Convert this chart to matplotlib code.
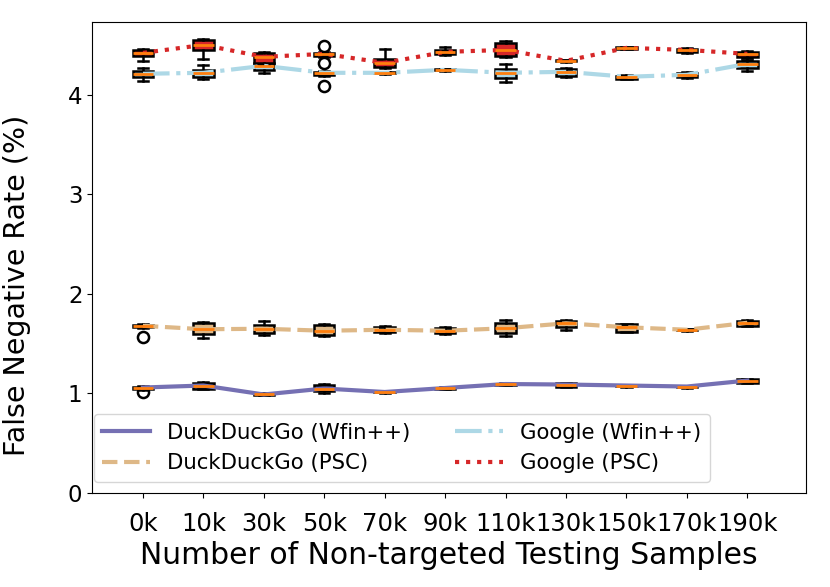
import numpy as np
import matplotlib
matplotlib.use("Agg")
import matplotlib.pyplot as plt

tick_labels = ["0k", "10k", "30k", "50k", "70k", "90k", "110k", "130k", "150k", "170k", "190k"]
positions = list(range(1, len(tick_labels) + 1))

# per-box stats: median, q1, q3, whisker low, whisker high
ddg_wfin_med = [1.06, 1.08, 0.99, 1.05, 1.015, 1.055, 1.095, 1.09, 1.08, 1.07, 1.13]
ddg_wfin_q1 = [1.045, 1.05, 0.985, 1.02, 1.01, 1.05, 1.09, 1.07, 1.075, 1.065, 1.11]
ddg_wfin_q3 = [1.07, 1.11, 0.995, 1.085, 1.02, 1.06, 1.10, 1.105, 1.085, 1.075, 1.145]
ddg_wfin_lo = [1.04, 1.045, 0.98, 1.0, 1.005, 1.045, 1.085, 1.065, 1.07, 1.06, 1.105]
ddg_wfin_hi = [1.075, 1.115, 1.0, 1.10, 1.025, 1.065, 1.105, 1.11, 1.09, 1.08, 1.15]
ddg_wfin_fliers = {0: [1.01]}

ddg_psc_med = [1.68, 1.645, 1.65, 1.63, 1.64, 1.63, 1.655, 1.705, 1.665, 1.64, 1.71]
ddg_psc_q1 = [1.665, 1.60, 1.605, 1.59, 1.615, 1.605, 1.605, 1.67, 1.62, 1.635, 1.68]
ddg_psc_q3 = [1.69, 1.705, 1.69, 1.69, 1.67, 1.66, 1.71, 1.73, 1.695, 1.645, 1.73]
ddg_psc_lo = [1.66, 1.555, 1.59, 1.58, 1.61, 1.60, 1.58, 1.64, 1.615, 1.63, 1.675]
ddg_psc_hi = [1.695, 1.72, 1.73, 1.70, 1.675, 1.665, 1.74, 1.735, 1.70, 1.65, 1.74]
ddg_psc_fliers = {0: [1.565]}

g_wfin_med = [4.21, 4.22, 4.29, 4.22, 4.22, 4.25, 4.22, 4.23, 4.18, 4.20, 4.31]
g_wfin_q1 = [4.18, 4.18, 4.25, 4.20, 4.215, 4.245, 4.17, 4.19, 4.16, 4.18, 4.27]
g_wfin_q3 = [4.24, 4.25, 4.32, 4.23, 4.225, 4.255, 4.26, 4.26, 4.19, 4.22, 4.34]
g_wfin_lo = [4.14, 4.16, 4.22, 4.19, 4.21, 4.24, 4.13, 4.18, 4.155, 4.17, 4.24]
g_wfin_hi = [4.27, 4.30, 4.33, 4.24, 4.23, 4.26, 4.31, 4.27, 4.20, 4.23, 4.35]
g_wfin_fliers = {3: [4.49, 4.32, 4.09]}

g_psc_med = [4.42, 4.50, 4.38, 4.41, 4.32, 4.43, 4.45, 4.34, 4.47, 4.45, 4.41]
g_psc_q1 = [4.39, 4.45, 4.32, 4.39, 4.28, 4.41, 4.39, 4.335, 4.46, 4.43, 4.38]
g_psc_q3 = [4.45, 4.55, 4.42, 4.42, 4.36, 4.45, 4.52, 4.345, 4.475, 4.46, 4.43]
g_psc_lo = [4.34, 4.36, 4.30, 4.38, 4.27, 4.40, 4.38, 4.33, 4.455, 4.42, 4.37]
g_psc_hi = [4.46, 4.56, 4.43, 4.43, 4.46, 4.48, 4.54, 4.35, 4.48, 4.47, 4.44]
g_psc_fliers = {}

series = [
    ("DuckDuckGo (Wfin++)", "#7570b3", "-",
     ddg_wfin_med, ddg_wfin_q1, ddg_wfin_q3, ddg_wfin_lo, ddg_wfin_hi, ddg_wfin_fliers),
    ("DuckDuckGo (PSC)", "#deb887", "--",
     ddg_psc_med, ddg_psc_q1, ddg_psc_q3, ddg_psc_lo, ddg_psc_hi, ddg_psc_fliers),
    ("Google (Wfin++)", "#add8e6", "-.",
     g_wfin_med, g_wfin_q1, g_wfin_q3, g_wfin_lo, g_wfin_hi, g_wfin_fliers),
    ("Google (PSC)", "#d62728", ":",
     g_psc_med, g_psc_q1, g_psc_q3, g_psc_lo, g_psc_hi, g_psc_fliers),
]


def make_stats(med, q1, q3, lo, hi, fliers):
    stats = []
    for i in range(len(med)):
        stats.append({
            "med": med[i], "q1": q1[i], "q3": q3[i],
            "whislo": lo[i], "whishi": hi[i],
            "fliers": fliers.get(i, []),
        })
    return stats


fig = plt.figure(figsize=(8.3, 5.87), dpi=100)
ax = fig.add_axes([0.111, 0.160, 0.86, 0.8025])

for label, color, ls, med, q1, q3, lo, hi, fliers in series:
    ax.bxp(
        make_stats(med, q1, q3, lo, hi, fliers),
        positions=positions,
        widths=0.34,
        patch_artist=True,
        boxprops=dict(facecolor=color, edgecolor="black", linewidth=1.8),
        whiskerprops=dict(color="black", linewidth=1.8),
        capprops=dict(color="black", linewidth=1.8),
        medianprops=dict(color="#ff7f0e", linewidth=2, zorder=4),
        flierprops=dict(marker="o", markerfacecolor="none", markeredgecolor="black",
                        markersize=8, markeredgewidth=1.8),
        manage_ticks=False,
    )
    ax.plot(positions, med, color=color, linestyle=ls, linewidth=3, label=label, zorder=3)

ax.set_xlim(0.16, 11.97)
ax.set_ylim(0, 4.73)
ax.set_xticks(positions)
ax.set_xticklabels(tick_labels)
ax.set_yticks([0, 1, 2, 3, 4])
ax.tick_params(axis="x", labelsize=17.5, pad=10)
ax.tick_params(axis="y", labelsize=16.5)
ax.set_xlabel("Number of Non-targeted Testing Samples", fontsize=21.5)
ax.set_ylabel("False Negative Rate (%)", fontsize=20.5)
ax.yaxis.set_label_coords(-0.086, 0.44)
ax.legend(loc="lower left", bbox_to_anchor=(0.0024, 0.024), borderaxespad=0,
          ncol=2, fontsize=15.3, handlelength=2.26, columnspacing=2.1)

fig.savefig("out.png", dpi=100)
